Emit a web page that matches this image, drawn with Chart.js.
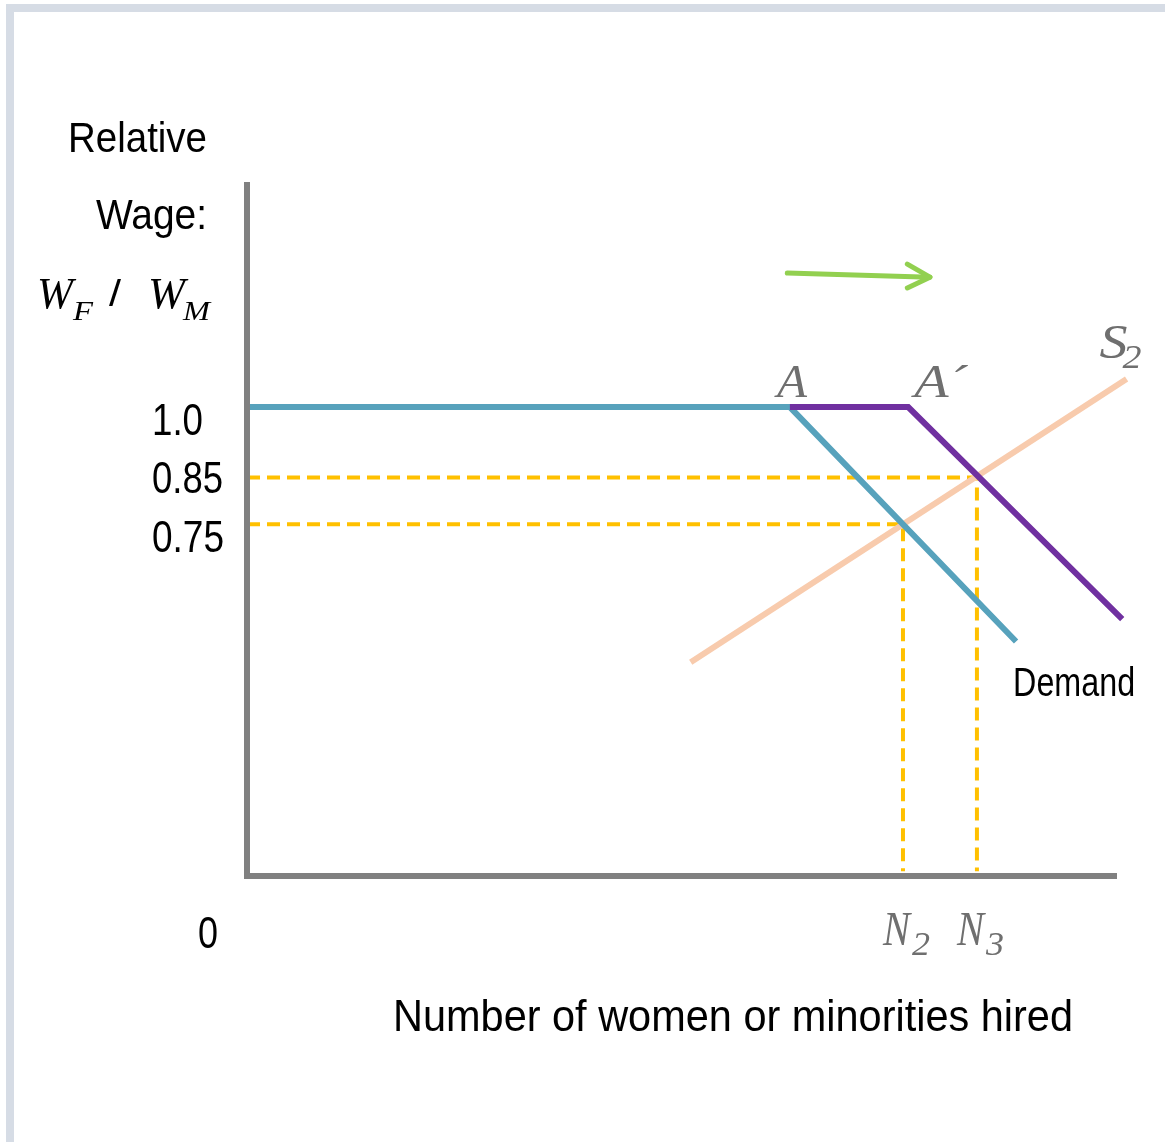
<!DOCTYPE html>
<html>
<head>
<meta charset="utf-8">
<script src="https://cdn.jsdelivr.net/npm/chart.js@4"></script>
<style>
    html, body { margin: 0; padding: 0; background: #fff; }
    #wrap { position: relative; width: 1165px; height: 1142px; overflow: hidden; }
    #frame {
        position: absolute; left: 6px; top: 4px; right: 0; bottom: 0;
        border-left: 8px solid #D6DCE5; border-top: 8px solid #D6DCE5;
    }
    #box { position: absolute; left: 0; top: 0; width: 1165px; height: 1142px; }
</style>
</head>
<body>
<div id="wrap">
    <div id="frame"></div>
    <div id="box"><canvas id="chart"></canvas></div>
</div>
<script>
// y axis ticks (relative wage) and their labels
const wageTicks = [1.0, 0.85, 0.75];
const wageLabels = ["1.0", "0.85", "0.75"];

// original demand curve, kinked at A
const demandX = [0, 62.4, 88.4];
const demandY = [1.0, 1.0, 0.5];

// demand after the shift, kinked at A'
const demand2X = [62.4, 76.0, 100.6];
const demand2Y = [1.0, 1.0, 0.548];

// supply S2
const supplyX = [51.0, 101.1];
const supplyY = [0.456, 1.06];

// equilibria N2 and N3
const eqX = [75.4, 83.9];
const eqY = [0.75, 0.85];
const eqLabels = ["2", "3"];

// green shift arrow
const arrowX = [62.1, 78.5];
const arrowY = [1.286, 1.277];
const arrowHeadX = [75.9, 78.5, 75.9];
const arrowHeadY = [1.305, 1.277, 1.254];

const SANS = '"Liberation Sans Narrow", "Liberation Sans", Arial, sans-serif';
const SERIF = '"Liberation Serif", "DejaVu Serif", serif';

function pts(xs, ys) {
    return xs.map((x, i) => ({ x: x, y: ys[i] }));
}

function line(label, xs, ys, color, width, extra) {
    return Object.assign({
        label: label,
        data: pts(xs, ys),
        showLine: true,
        borderColor: color,
        backgroundColor: color,
        borderWidth: width,
        pointRadius: 0,
        pointHoverRadius: 0,
        tension: 0,
        clip: false,
    }, extra || {});
}

// draws text squeezed/stretched to a given width (the original uses a condensed face)
function fitText(ctx, txt, x, y, w, font, color) {
    ctx.save();
    ctx.font = font;
    ctx.fillStyle = color;
    ctx.textAlign = "left";
    ctx.textBaseline = "alphabetic";
    const m = ctx.measureText(txt).width;
    ctx.translate(x, y);
    ctx.scale(w / m, 1);
    ctx.fillText(txt, 0, 0);
    ctx.restore();
}

const dashed = eqX.map((x, i) => line("eq" + i, [0, x, x], [eqY[i], eqY[i], 0.01], "#FFC000", 4, {
    borderDash: [13, 7], order: 5
}));

const axesPlugin = {
    id: "axes",
    afterDatasetsDraw(chart) {
        const { ctx, scales: { x, y } } = chart;
        const x0 = x.getPixelForValue(0), y0 = y.getPixelForValue(0);
        ctx.save();
        ctx.strokeStyle = "#808080";
        ctx.lineWidth = 6;
        ctx.lineJoin = "miter";
        ctx.beginPath();
        ctx.moveTo(x0, chart.chartArea.top);
        ctx.lineTo(x0, y0);
        ctx.lineTo(chart.chartArea.right, y0);
        ctx.stroke();
        ctx.restore();
    },
    afterDraw(chart) {
        const { ctx, scales: { x, y } } = chart;
        const gray = "#6F6F6F";

        // y axis title
        fitText(ctx, "Relative", 68, 152, 139, "43px " + SANS, "#000");
        fitText(ctx, "Wage:", 96, 229, 111, "43px " + SANS, "#000");
        fitText(ctx, "W", 37, 308, 36, "italic 45px " + SERIF, "#000");
        fitText(ctx, "F", 73, 320, 20, "italic 28px " + SERIF, "#000");
        fitText(ctx, "/", 109, 306, 12, "36px " + SANS, "#000");
        fitText(ctx, "W", 148, 308, 37, "italic 45px " + SERIF, "#000");
        fitText(ctx, "M", 183, 320, 27, "italic 28px " + SERIF, "#000");

        // tick labels
        const tickWidths = [51, 71, 72];
        const tickNudge = [28, 16, 28];
        wageTicks.forEach((v, i) => {
            fitText(ctx, wageLabels[i], 152, y.getPixelForValue(v) + tickNudge[i], tickWidths[i], "44px " + SANS, "#000");
        });
        fitText(ctx, "0", 198, 948, 20, "44px " + SANS, "#000");

        // x axis title
        fitText(ctx, "Number of women or minorities hired", 393, 1031, 680, "44px " + SANS, "#000");

        // curve labels
        const ax = x.getPixelForValue(demandX[1]), ay = y.getPixelForValue(demandY[1]);
        fitText(ctx, "A", ax - 13, ay - 10, 30, "italic 46px " + SERIF, gray);
        const bx = x.getPixelForValue(demand2X[1]);
        fitText(ctx, "A\u00B4", bx + 6, ay - 10, 53, "italic 46px " + SERIF, gray);

        const sx = x.getPixelForValue(supplyX[1]), sy = y.getPixelForValue(supplyY[1]);
        fitText(ctx, "S", sx - 27, sy - 21, 28, "italic 48px " + SERIF, gray);
        fitText(ctx, "2", sx - 4, sy - 11, 19, "italic 34px " + SERIF, gray);

        const dx = x.getPixelForValue(demandX[2]), dy = y.getPixelForValue(demandY[2]);
        fitText(ctx, "Demand", dx - 3, dy + 54, 122, "40px " + SANS, "#000");

        eqX.forEach((v, i) => {
            const px = x.getPixelForValue(v);
            fitText(ctx, "N", px - 20, 945, 27, "italic 48px " + SERIF, gray);
            fitText(ctx, eqLabels[i], px + 9, 955, 18, "italic 34px " + SERIF, gray);
        });
    }
};

new Chart(document.getElementById("chart"), {
    type: "scatter",
    data: {
        datasets: [
            line("Demand shifted", demand2X, demand2Y, "#7030A0", 6, { order: 1, borderJoinStyle: "miter" }),
            line("Demand", demandX, demandY, "#57A2BC", 6, { order: 2, borderJoinStyle: "miter" }),
            line("S2", supplyX, supplyY, "#F8CBAD", 6, { order: 3 }),
            line("arrow", arrowX, arrowY, "#92D050", 5, { order: 4, borderCapStyle: "round" }),
            line("arrow head", arrowHeadX, arrowHeadY, "#92D050", 5, { order: 4, borderCapStyle: "round", borderJoinStyle: "round" }),
            ...dashed,
        ],
    },
    plugins: [axesPlugin],
    options: {
        responsive: true,
        maintainAspectRatio: false,
        animation: false,
        events: [],
        layout: { padding: { left: 247, top: 182, right: 48, bottom: 266 } },
        plugins: {
            legend: { display: false },
            tooltip: { enabled: false },
        },
        scales: {
            x: { type: "linear", min: 0, max: 100, display: false },
            y: { type: "linear", min: 0, max: 1.48, display: false },
        },
    },
});
</script>
</body>
</html>
